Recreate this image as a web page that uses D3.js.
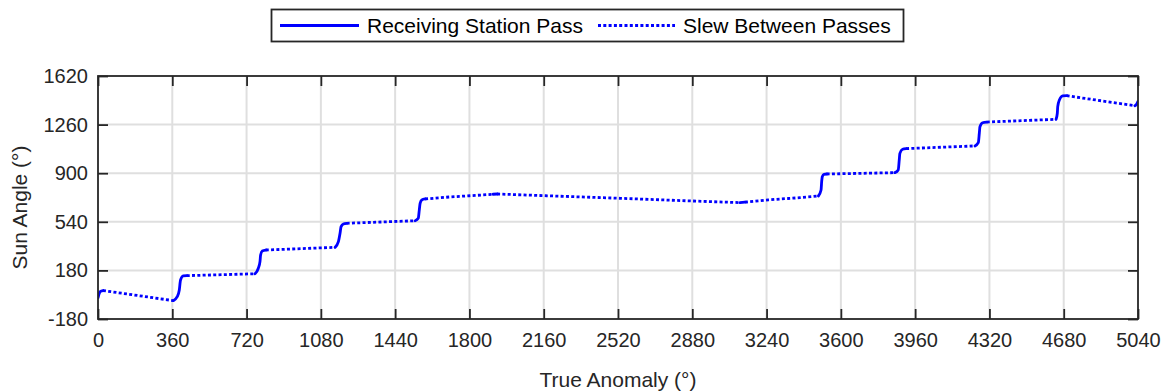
<!DOCTYPE html>
<html>
<head>
<meta charset="utf-8">
<script src="https://cdn.jsdelivr.net/npm/d3@7"></script>
<style>
  html, body { margin: 0; padding: 0; background: #fff; }
  svg { display: block; font-family: "Liberation Sans", Arial, Helvetica, sans-serif; }
</style>
</head>
<body>
<svg id="chart" width="1169" height="392"></svg>
<script>
// Sun angle vs. true anomaly: receiving-station passes (solid) and the slews between them (dotted).
// Each point is [true anomaly (deg), sun angle (deg)].

const pass0 = [[0, -24], [5, 5], [12, 24], [24, 31]];
const pass1 = [[365, -44], [384, -15], [394, 35], [400, 109], [413, 139], [430, 141]];
const pass2 = [[761, 155], [777, 196], [785, 245], [788, 294], [796, 324], [813, 331]];
const pass3 = [[1149, 351], [1165, 393], [1173, 455], [1178, 504], [1189, 524], [1205, 529]];
const pass4 = [[1537, 548], [1552, 566], [1557, 627], [1561, 677], [1569, 702], [1585, 709]];
const pass5 = [[1914, 744], [1934, 746]];
const pass6 = [[3111, 682], [3135, 685]];
const pass7 = [[3491, 731], [3504, 776], [3507, 837], [3510, 874], [3518, 892], [3531, 894]];
const pass8 = [[3862, 904], [3878, 924], [3883, 998], [3886, 1047], [3899, 1077], [3916, 1082]];
const pass9 = [[4250, 1102], [4266, 1126], [4271, 1196], [4274, 1244], [4287, 1274], [4307, 1279]];
const pass10 = [[4643, 1299], [4649, 1344], [4651, 1393], [4659, 1442], [4675, 1472], [4694, 1474]];
const pass11 = [[5025, 1400], [5033, 1410], [5040, 1432]];

const slew0 = [[24, 31], [365, -44]];
const slew1 = [[430, 141], [761, 155]];
const slew2 = [[813, 331], [1149, 351]];
const slew3 = [[1205, 529], [1537, 548]];
const slew4 = [[1585, 709], [1706, 724], [1803, 733], [1914, 744]];
const slew5 = [[1934, 746], [2174, 733], [2530, 714], [2885, 694], [3111, 682]];
const slew6 = [[3135, 685], [3248, 702], [3402, 719], [3491, 731]];
const slew7 = [[3531, 894], [3862, 904]];
const slew8 = [[3916, 1082], [4250, 1102]];
const slew9 = [[4307, 1279], [4643, 1299]];
const slew10 = [[4694, 1474], [5025, 1400]];

const passes = [pass0, pass1, pass2, pass3, pass4, pass5, pass6, pass7, pass8, pass9, pass10, pass11];
const slews = [slew0, slew1, slew2, slew3, slew4, slew5, slew6, slew7, slew8, slew9, slew10];

const xTicks = [0, 360, 720, 1080, 1440, 1800, 2160, 2520, 2880, 3240, 3600, 3960, 4320, 4680, 5040];
const yTicks = [-180, 180, 540, 900, 1260, 1620];

const legendLabels = ["Receiving Station Pass", "Slew Between Passes"];
const xLabel = "True Anomaly (°)";
const yLabel = "Sun Angle (°)";

// ---- layout ----
const margin = { left: 98, right: 31, top: 76, bottom: 73 };
const W = 1169, H = 392;
const pw = W - margin.left - margin.right;
const ph = H - margin.top - margin.bottom;

const axisColor = "#262626";
const gridColor = "#dfdfdf";
const lineColor = "#0000ff";

const svg = d3.select("#chart");
const g = svg.append("g").attr("transform", `translate(${margin.left},${margin.top})`);

const x = d3.scaleLinear().domain([0, 5040]).range([0, pw]);
const y = d3.scaleLinear().domain([-180, 1620]).range([ph, 0]);

// grid
g.append("g").selectAll("line").data(xTicks.slice(1, -1)).join("line")
  .attr("x1", d => x(d)).attr("x2", d => x(d))
  .attr("y1", 0).attr("y2", ph)
  .attr("stroke", gridColor).attr("stroke-width", 2);
g.append("g").selectAll("line").data(yTicks.slice(1, -1)).join("line")
  .attr("y1", d => y(d)).attr("y2", d => y(d))
  .attr("x1", 0).attr("x2", pw)
  .attr("stroke", gridColor).attr("stroke-width", 2);

// data
const clipId = "plot-clip";
svg.append("defs").append("clipPath").attr("id", clipId)
  .append("rect").attr("x", 0).attr("y", 0).attr("width", pw).attr("height", ph);

const line = d3.line()
  .x(d => x(d[0]))
  .y(d => y(d[1]))
  .curve(d3.curveMonotoneX);

const dataG = g.append("g").attr("clip-path", `url(#${clipId})`);

dataG.selectAll("path.slew").data(slews).join("path")
  .attr("class", "slew")
  .attr("d", line)
  .attr("fill", "none")
  .attr("stroke", lineColor)
  .attr("stroke-width", 2.8)
  .attr("stroke-dasharray", "3,2.3");

dataG.selectAll("path.pass").data(passes).join("path")
  .attr("class", "pass")
  .attr("d", line)
  .attr("fill", "none")
  .attr("stroke", lineColor)
  .attr("stroke-width", 2.8)
  .attr("stroke-linejoin", "round")
  .attr("stroke-linecap", "round");

// axes: ticks point inward on all four sides
const tickLen = 10;
const fmt = d => String(d);   // plain hyphen for negatives

const xAxisB = d3.axisBottom(x).tickValues(xTicks).tickSize(-tickLen).tickPadding(14).tickFormat(fmt);
const xAxisT = d3.axisTop(x).tickValues(xTicks).tickSize(-tickLen).tickFormat("");
const yAxisL = d3.axisLeft(y).tickValues(yTicks).tickSize(-tickLen).tickPadding(10).tickFormat(fmt);
const yAxisR = d3.axisRight(y).tickValues(yTicks).tickSize(-tickLen).tickFormat("");

function styleAxis(sel) {
  sel.select(".domain").remove();
  sel.selectAll(".tick line").attr("stroke", axisColor).attr("stroke-width", 1.8);
  sel.selectAll(".tick text").attr("fill", axisColor).attr("font-size", 20)
    .attr("font-family", "Liberation Sans, Arial, sans-serif");
}

g.append("g").attr("transform", `translate(0,${ph})`).call(xAxisB).call(styleAxis);
g.append("g").call(xAxisT).call(styleAxis);
g.append("g").call(yAxisL).call(styleAxis);
g.append("g").attr("transform", `translate(${pw},0)`).call(yAxisR).call(styleAxis);

// plot frame
g.append("rect")
  .attr("x", 0).attr("y", 0).attr("width", pw).attr("height", ph)
  .attr("fill", "none").attr("stroke", axisColor).attr("stroke-width", 1.8);

// axis labels
svg.append("text")
  .attr("x", margin.left + pw / 2).attr("y", 387)
  .attr("text-anchor", "middle")
  .attr("font-size", 21).attr("fill", axisColor)
  .text(xLabel);

svg.append("text")
  .attr("transform", `translate(27,${margin.top + ph / 2 + 10}) rotate(-90)`)
  .attr("text-anchor", "middle")
  .attr("font-size", 21).attr("fill", axisColor)
  .text(yLabel);

// legend
const lg = svg.append("g");
lg.append("rect")
  .attr("x", 271.5).attr("y", 9.5).attr("width", 632).attr("height", 32)
  .attr("fill", "#fff").attr("stroke", axisColor).attr("stroke-width", 1.8);

const ly = 25.5;
lg.append("line").attr("x1", 280).attr("x2", 359).attr("y1", ly).attr("y2", ly)
  .attr("stroke", lineColor).attr("stroke-width", 2.8);
lg.append("text").attr("x", 367).attr("y", ly + 7.5)
  .attr("font-size", 21).attr("fill", "#000").text(legendLabels[0]);
lg.append("line").attr("x1", 598).attr("x2", 675).attr("y1", ly).attr("y2", ly)
  .attr("stroke", lineColor).attr("stroke-width", 2.8).attr("stroke-dasharray", "3,2.3");
lg.append("text").attr("x", 683).attr("y", ly + 7.5)
  .attr("font-size", 21).attr("fill", "#000").text(legendLabels[1]);
</script>
</body>
</html>
